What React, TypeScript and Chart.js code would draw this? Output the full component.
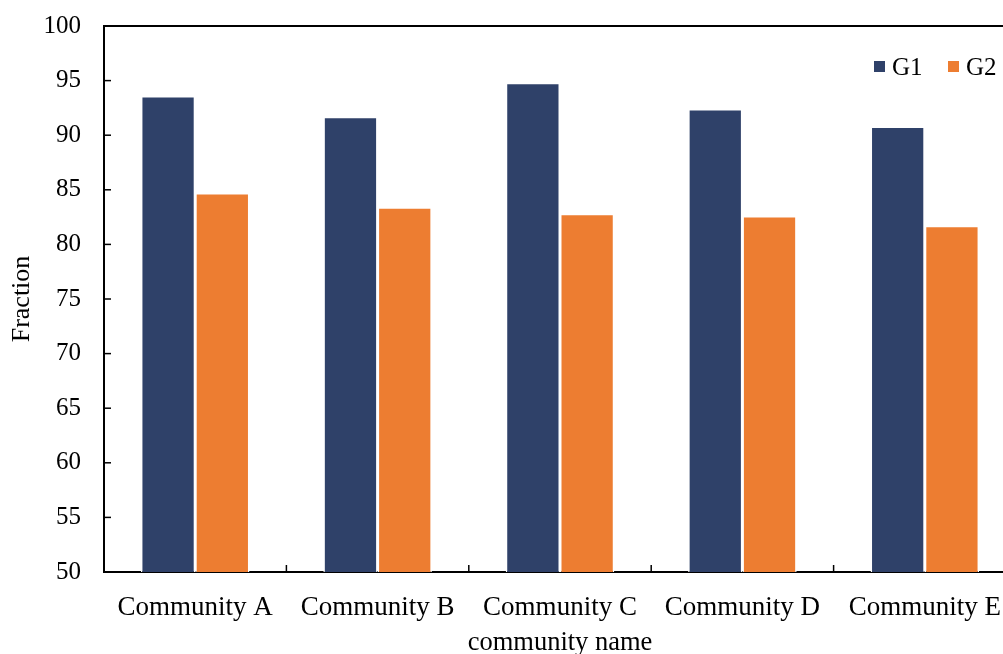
import React, { useEffect, useRef } from "react";
import { Chart, registerables } from "chart.js";

Chart.register(...registerables);

const categories = ["Community A", "Community B", "Community C", "Community D", "Community E"];
const g1Values = [93.6, 91.7, 94.8, 92.4, 90.8];
const g2Values = [84.7, 83.4, 82.8, 82.6, 81.7];
const seriesNames = ["G1", "G2"];
const yTickMin = 50;
const yTickMax = 100;
const yTickStep = 5;

const NAVY = "#2F4169";
const ORANGE = "#ED7D31";
const SERIF = "'Liberation Serif', 'Times New Roman', serif";

// Inward tick marks, top frame line and a legend placed inside the plot area
const framePlugin = {
  id: "frame",
  afterDraw(chart: any) {
    const { ctx, chartArea, scales } = chart;
    const x = scales.x;
    const y = scales.y;
    ctx.save();
    ctx.strokeStyle = "#000";
    ctx.lineWidth = 2;
    // top frame
    ctx.beginPath();
    ctx.moveTo(chartArea.left - 1, chartArea.top);
    ctx.lineTo(chartArea.right, chartArea.top);
    ctx.stroke();
    // y ticks pointing inward
    ctx.lineWidth = 1.5;
    y.ticks.forEach((t: any) => {
      const py = y.getPixelForValue(t.value);
      ctx.beginPath();
      ctx.moveTo(chartArea.left, py);
      ctx.lineTo(chartArea.left + 7, py);
      ctx.stroke();
    });
    // x ticks between categories, pointing up
    for (let i = 1; i < categories.length; i++) {
      const px = (x.getPixelForValue(i - 1) + x.getPixelForValue(i)) / 2;
      ctx.beginPath();
      ctx.moveTo(px, chartArea.bottom);
      ctx.lineTo(px, chartArea.bottom - 7);
      ctx.stroke();
    }
    // legend
    ctx.font = `25px ${SERIF}`;
    ctx.textBaseline = "alphabetic";
    ctx.textAlign = "left";
    const legendX = [874, 948];
    chart.data.datasets.forEach((ds: any, i: number) => {
      ctx.fillStyle = ds.backgroundColor;
      ctx.fillRect(legendX[i], 61, 11, 11);
      ctx.fillStyle = "#000";
      ctx.fillText(ds.label, legendX[i] + 18, 75);
    });
    ctx.restore();
  },
};

function BarChart() {
  const canvasRef = useRef<HTMLCanvasElement | null>(null);

  useEffect(() => {
    if (!canvasRef.current) return;
    const chart = new Chart(canvasRef.current, {
      type: "bar",
      data: {
        labels: categories,
        datasets: [
          {
            label: seriesNames[0],
            data: g1Values,
            backgroundColor: NAVY,
            borderColor: "#ffffff",
            borderWidth: 1.5,
            borderSkipped: "start",
          },
          {
            label: seriesNames[1],
            data: g2Values,
            backgroundColor: ORANGE,
            borderColor: "#ffffff",
            borderWidth: 1.5,
            borderSkipped: "start",
          },
        ],
      },
      options: {
        responsive: false,
        animation: false,
        devicePixelRatio: 1,
        layout: { padding: { top: 26, left: 0, right: 0, bottom: 0 } },
        datasets: {
          bar: { categoryPercentage: 0.595, barPercentage: 1 },
        },
        plugins: {
          legend: { display: false },
          tooltip: { enabled: false },
        },
        scales: {
          x: {
            grid: { display: false, drawTicks: false },
            border: { display: true, color: "#000", width: 2 },
            ticks: {
              color: "#000",
              padding: 20,
              font: { family: SERIF, size: 27 },
              maxRotation: 0,
            },
            title: {
              display: true,
              text: "community name",
              color: "#000",
              font: { family: SERIF, size: 26.5, lineHeight: 0.85 },
              padding: { top: 0, bottom: 0 },
            },
            afterFit(scale: any) {
              scale.height = 82;
              scale.paddingLeft = 0;
              scale.paddingRight = 0;
            },
          },
          y: {
            min: yTickMin,
            max: yTickMax,
            grid: { display: false, drawTicks: false },
            border: { display: true, color: "#000", width: 2 },
            ticks: {
              stepSize: yTickStep,
              color: "#000",
              padding: 23,
              font: { family: SERIF, size: 25 },
            },
            title: {
              display: true,
              text: "Fraction",
              color: "#000",
              font: { family: SERIF, size: 26 },
              padding: { top: 7, bottom: 0 },
            },
            afterFit(scale: any) {
              scale.width = 104;
              scale.paddingTop = 0;
              scale.paddingBottom = 0;
            },
          },
        },
      },
      plugins: [framePlugin],
    });
    return () => chart.destroy();
  }, []);

  return (
    <div
      style={{
        position: "fixed",
        left: 0,
        top: 0,
        width: 1003,
        height: 654,
        overflow: "hidden",
        background: "#fff",
      }}
    >
      <canvas ref={canvasRef} width={1016} height={654} style={{ display: "block" }} />
    </div>
  );
}

export default function App() {
  return <BarChart />;
}
